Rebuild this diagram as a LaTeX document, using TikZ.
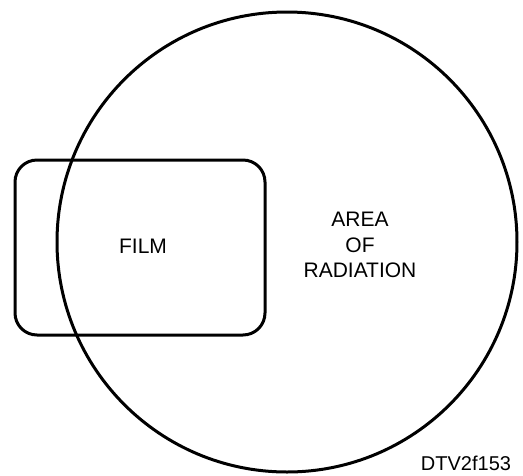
\documentclass[tikz,border=0pt]{standalone}
\usepackage{fontspec}
\setmainfont{Liberation Sans}
\begin{document}
\begin{tikzpicture}[x=1pt,y=-1pt,
  outline/.style={draw=black, line width=3pt},
  lbl/.style={font=\fontsize{21}{25.5}\selectfont, inner sep=0pt}]
\useasboundingbox (0,0) rectangle (523,475);
\node[outline, circle, minimum size=460pt, inner sep=0pt] (area) at (287,242) {};
\node[outline, rounded corners=22pt, minimum width=250pt, minimum height=175pt, inner sep=0pt] (film) at (140,247.5) {};
\node[lbl, anchor=base] (filmtext) at (143,253) {FILM};
\node[lbl, align=center] (radtext) at (360,245) {AREA\\OF\\RADIATION};
\node[lbl, anchor=base, font=\fontsize{20}{24}\selectfont] (code) at (466,470) {DTV2f153};
\end{tikzpicture}
\end{document}
